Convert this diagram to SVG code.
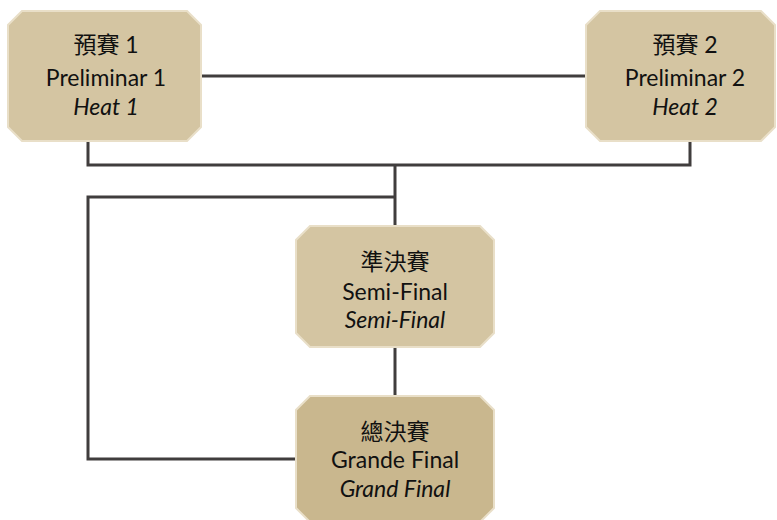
<svg xmlns="http://www.w3.org/2000/svg" width="777" height="520" viewBox="0 0 777 520">
<style>
.box{fill:#d4c5a2;stroke:#e9dfc8;stroke-width:2}
.box.dark{fill:#c9b78e}
.c{stroke:#403d3d;stroke-width:3;fill:none}
text{font-family:Lato,"Noto Sans CJK TC",sans-serif;font-size:23px;fill:#111;text-anchor:middle}
.i{font-style:italic}
</style>
<rect width="777" height="520" fill="#fff"/>
<g id="connectors">
<path class="c" d="M201 76H586"/>
<path class="c" d="M88 141V165H690V141"/>
<path class="c" d="M395 165V226"/>
<path class="c" d="M395 197H88V459H296"/>
<path class="c" d="M395 347V396"/>
</g>
<g id="heat1">
<polygon class="box" points="22,11 187,11 201,25 201,127 187,141 22,141 8,127 8,25"/>
<text x="106" y="53">預賽 1</text>
<text x="106" y="86">Preliminar 1</text>
<text x="106" y="115" class="i">Heat 1</text>
</g>
<g id="heat2">
<polygon class="box" points="600,11 761,11 775,25 775,127 761,141 600,141 586,127 586,25"/>
<text x="685" y="53">預賽 2</text>
<text x="685" y="86">Preliminar 2</text>
<text x="685" y="115" class="i">Heat 2</text>
</g>
<g id="semifinal">
<polygon class="box" points="310,226 480,226 494,240 494,333 480,347 310,347 296,333 296,240"/>
<text x="395" y="270">準決賽</text>
<text x="395" y="300">Semi-Final</text>
<text x="395" y="328" class="i">Semi-Final</text>
</g>
<g id="grandfinal">
<polygon class="box dark" points="310,396 480,396 494,410 494,508 480,522 310,522 296,508 296,410"/>
<text x="395" y="440">總決賽</text>
<text x="395" y="468">Grande Final</text>
<text x="395" y="497" class="i">Grand Final</text>
</g>
</svg>
